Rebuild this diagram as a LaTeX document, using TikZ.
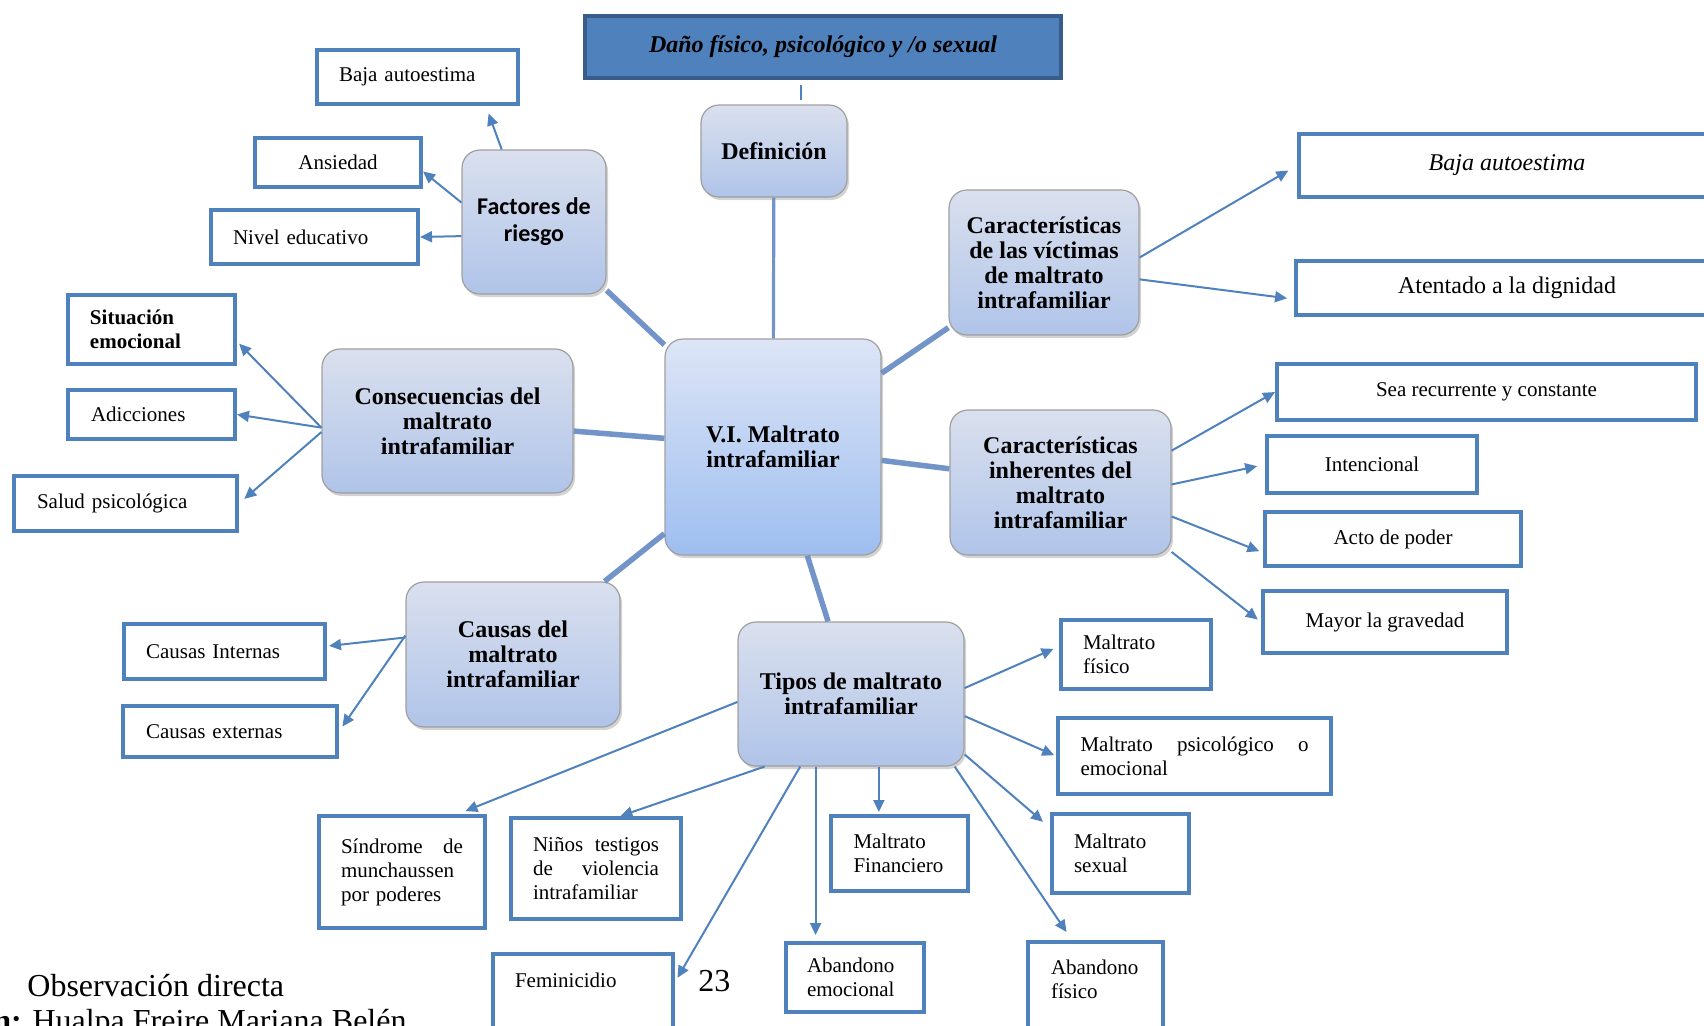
\documentclass[tikz,border=0pt]{standalone}
\usepackage{fontspec}
\setmainfont{Liberation Serif}
\newfontfamily\calibrifont{Carlito}
\usetikzlibrary{arrows.meta,shadows}

\definecolor{boxblue}{RGB}{79,129,189}
\definecolor{titleedge}{RGB}{56,93,138}
\definecolor{trunkblue}{RGB}{114,148,200}
\definecolor{cattop}{RGB}{218,224,238}
\definecolor{catbot}{RGB}{176,196,233}
\definecolor{hubtop}{RGB}{221,229,246}
\definecolor{hubbot}{RGB}{158,190,240}

\tikzset{
  leaf/.style={draw=boxblue, line width=2pt, fill=white, inner sep=0pt, align=left,
    font=\fontsize{10.5}{12}\selectfont},
  topic/.style={draw=gray!75, line width=0.6pt, rounded corners=9pt, inner sep=0pt,
    top color=cattop, bottom color=catbot, align=center,
    font=\bfseries\fontsize{12}{12.5}\selectfont,
    drop shadow={opacity=0.35, shadow xshift=1pt, shadow yshift=-1.5pt}},
  trunk/.style={draw=trunkblue, line width=2.75pt},
  arr/.style={->, draw=boxblue, line width=1pt},
}

\begin{document}
\begin{tikzpicture}[x=0.5pt, y=-0.5pt, >={Triangle[length=6pt,width=5.5pt]}]
\useasboundingbox (0,0) rectangle (1704,1025);

% title and centre
\node[draw=titleedge, line width=2pt, fill=boxblue, minimum width=238pt, minimum height=31pt,
  font=\bfseries\itshape\fontsize{12}{14}\selectfont] (title) at (823,47) {Daño físico, psicológico y /o sexual};
\coordinate (tk) at (801,85);
\draw[boxblue, line width=0.75pt] (tk) -- ++(0,15);

\node[topic, minimum width=73pt, minimum height=46pt] (defi) at (774,151) {Definición};
\node[topic, top color=hubtop, bottom color=hubbot, minimum width=108pt, minimum height=108pt] (vi) at (773,447) {V.I. Maltrato\\intrafamiliar};
\node[topic, minimum width=72pt, minimum height=72pt, font=\calibrifont\bfseries\fontsize{12}{13.5}\selectfont] (fact) at (534,222) {Factores de\\riesgo};
\node[topic, minimum width=125.5pt, minimum height=72pt] (cons) at (447.5,421) {Consecuencias del\\maltrato\\intrafamiliar};
\node[topic, minimum width=107pt, minimum height=72.5pt] (caus) at (513,654.5) {Causas del\\maltrato\\intrafamiliar};
\node[topic, minimum width=113pt, minimum height=72pt] (tipo) at (851,694) {Tipos de maltrato\\intrafamiliar};
\node[topic, minimum width=95pt, minimum height=72.5pt] (vict) at (1044,262.5) {Características\\de las víctimas\\de maltrato\\intrafamiliar};
\node[topic, minimum width=110.5pt, minimum height=72.5pt] (inhe) at (1060.5,482.5) {Características\\inherentes del\\maltrato\\intrafamiliar};

\draw[trunk, line width=1.6pt] (defi) -- (vi);
\draw[trunk] (fact) -- (vi);
\draw[trunk] (cons) -- (vi);
\draw[trunk] (caus) -- (vi);
\draw[trunk] (tipo) -- (vi);
\draw[trunk] (vict) -- (vi);
\draw[trunk] (inhe) -- (vi);

% factores de riesgo
\node[leaf, minimum width=100.5pt, minimum height=27pt, text width=78.5pt] (ba1) at (417.5,77) {Baja autoestima};
\node[leaf, minimum width=83pt, minimum height=24.5pt] (ansi) at (338,162.5) {Ansiedad};
\node[leaf, minimum width=103.5pt, minimum height=27pt, text width=81.5pt] (nive) at (314.5,237) {Nivel educativo};
\draw[arr, shorten >=4pt] (fact.114.6) -- (ba1.-23.8);
\draw[arr] (fact.165.2) -- (ansi.-6.5);
\draw[arr] (fact.191) -- (nive.east);

% consecuencias
\node[leaf, minimum width=83.5pt, minimum height=34.5pt, text width=61.5pt, font=\bfseries\fontsize{10.5}{12}\selectfont] (situ) at (151.5,329.5) {Situación\\emocional};
\node[leaf, minimum width=83.5pt, minimum height=24.5pt, text width=60.5pt] (adic) at (151.5,414.5) {Adicciones};
\node[leaf, minimum width=111.5pt, minimum height=27.5pt, text width=88.5pt] (salu) at (125.5,503.5) {Salud psicológica};
\draw[arr, shorten >=1.5pt] (cons.183.2) -- (situ.-8.4);
\draw[arr] (cons.183.2) -- (adic.east);
\draw[arr, shorten >=3.5pt] (cons.185.9) -- (salu.east);

% causas
\node[leaf, minimum width=100.5pt, minimum height=27.5pt, text width=78.5pt] (cint) at (224.5,651.5) {Causas Internas};
\node[leaf, minimum width=107pt, minimum height=25.5pt, text width=84pt] (cext) at (230,731.5) {Causas externas};
\draw[arr, shorten >=1pt] (caus.171.8) -- (cint.3.7);
\draw[arr, shorten >=3pt] (caus.170.3) -- (cext.east);

% tipos de maltrato
\node[leaf, minimum width=83pt, minimum height=56pt, text width=61pt] (sind) at (402,872) {Síndrome\hfill de\\munchaussen\\por poderes};
\node[leaf, minimum width=85pt, minimum height=50.5pt, text width=63pt] (nino) at (596,868.5) {Niños\hfill testigos\\de\hfill violencia\\intrafamiliar};
\node[leaf, minimum width=90pt, minimum height=46pt, text width=68pt] (fem) at (583,1000) {Feminicidio\\[8pt]\mbox{}};
\node[leaf, minimum width=69pt, minimum height=34.5pt, text width=48pt] (aemo) at (855,977.5) {Abandono\\emocional};
\node[leaf, minimum width=68.5pt, minimum height=37.5pt, text width=46pt] (mfin) at (899.5,853.5) {Maltrato\\Financiero};
\node[leaf, minimum width=67.5pt, minimum height=51pt, text width=44.5pt] (afis) at (1095.5,993) {Abandono\\físico\\[2pt]\mbox{}};
\node[leaf, minimum width=68.5pt, minimum height=39.5pt, text width=46.5pt] (msex) at (1120.5,853.5) {Maltrato\\sexual};
\node[leaf, minimum width=136.5pt, minimum height=38pt, text width=114pt] (mpsi) at (1194.5,756) {Maltrato\hfill psicológico\hfill o\\emocional};
\node[leaf, minimum width=75pt, minimum height=34.5pt, text width=53pt] (mfis) at (1136,654.5) {Maltrato\\físico};
\draw[arr, shorten >=3pt] (tipo.3.5) -- (mfis.174.4);
\draw[arr, shorten >=1pt] (tipo.-11) -- (mpsi.west);
\draw[arr, shorten >=4.6pt] (tipo.-28.5) -- (msex.160.6);
\draw[arr, shorten >=4.8pt] (tipo.-35.7) -- (afis.114.8);
\draw[arr, shorten >=1pt] (tipo.291.3) -- (tipo.291.3 |- mfin.north);
\draw[arr, shorten >=3pt] (tipo.244.7) -- (tipo.244.7 |- aemo.north);
\draw[arr, shorten >=2.5pt] (tipo.235.8) -- (fem.11);
\draw[arr] (tipo.220.3) -- (nino.65);
\draw[arr, shorten >=4pt] (tipo.184.6) -- (sind.46.5);

% caracteristicas inherentes
\node[leaf, minimum width=209.5pt, minimum height=28pt] (sear) at (1486.5,392) {Sea recurrente y constante};
\node[leaf, minimum width=105pt, minimum height=28.5pt] (inte) at (1372,464.5) {Intencional};
\node[leaf, minimum width=128pt, minimum height=27pt] (acto) at (1393,539) {Acto de poder};
\node[leaf, minimum width=122pt, minimum height=31pt] (mayo) at (1385,622) {Mayor la gravedad};
\draw[arr] (inhe.16.9) -- (sear.west);
\draw[arr, shorten >=4pt] (inhe.-1) -- (inte.west);
\draw[arr, shorten >=2pt] (inhe.-17.3) -- (acto.186.6);
\draw[arr, shorten >=2pt] (inhe.-32.2) -- (mayo.west);

% caracteristicas de las victimas
\node[leaf, minimum width=208pt, minimum height=31.5pt, font=\itshape\fontsize{12}{14}\selectfont] (batt) at (1507,165.5) {Baja autoestima};
\node[leaf, minimum width=211pt, minimum height=27pt, font=\fontsize{12}{14}\selectfont] (aten) at (1507,288) {Atentado a la dignidad};
\draw[arr, shorten >=5pt] (vict.3.9) -- (batt.west);
\draw[arr, shorten >=3.5pt] (vict.-10.4) -- (aten.183.3);

% pie
\node[anchor=base west, inner sep=0pt, font=\fontsize{16}{19}\selectfont] (pag) at (698,991) {23};
\node[anchor=base west, inner sep=0pt, font=\fontsize{16}{19}\selectfont] (obs) at (27,996) {Observación directa};
\node[anchor=base west, inner sep=0pt, font=\fontsize{16}{19}\selectfont] (auth) at (-7,1031) {\textbf{n:} Hualpa Freire Mariana Belén};
\end{tikzpicture}
\end{document}
